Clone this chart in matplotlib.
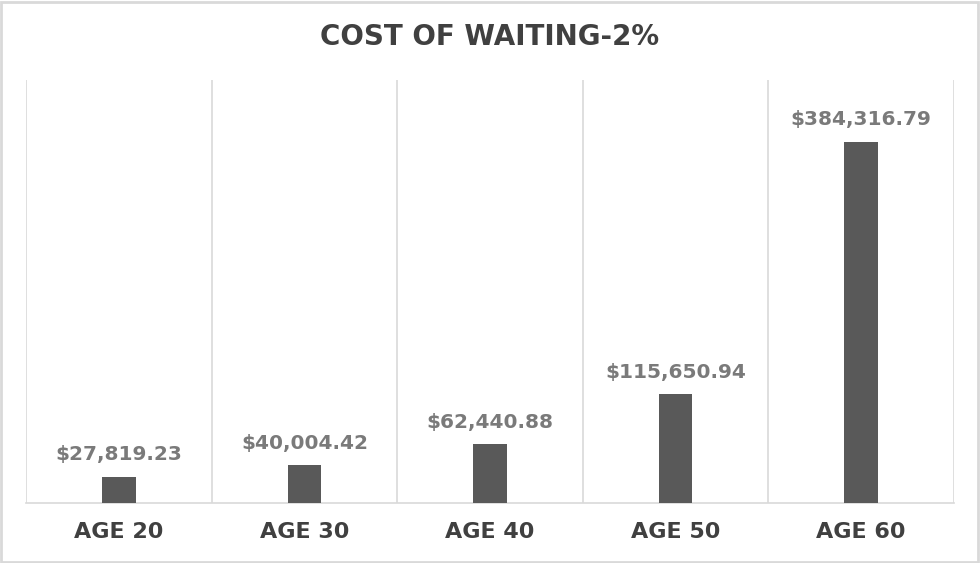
import matplotlib
matplotlib.use("Agg")
import matplotlib.pyplot as plt
from matplotlib.patches import Rectangle

categories = ["AGE 20", "AGE 30", "AGE 40", "AGE 50", "AGE 60"]
values = [27819.23, 40004.42, 62440.88, 115650.94, 384316.79]
labels = ["$27,819.23", "$40,004.42", "$62,440.88", "$115,650.94", "$384,316.79"]
title = "COST OF WAITING-2%"

W, H = 980, 563
fig = plt.figure(figsize=(W / 100, H / 100), dpi=100)
fig.patch.set_facecolor("white")
fig.patches.append(Rectangle((0.001, 0.002), 0.997, 0.995, transform=fig.transFigure,
                             fill=False, edgecolor="#d9d9d9", linewidth=2))

ax = fig.add_axes([26 / W, (H - 503) / H, (954 - 26) / W, (503 - 80) / H])
x = list(range(len(categories)))
ax.bar(x, values, width=0.18, color="#595959", zorder=3)
ax.set_xlim(-0.5, len(categories) - 0.5)
ax.set_ylim(0, 450000)

for i in range(len(categories) + 1):
    ax.axvline(i - 0.5, color="#d9d9d9", linewidth=1.2, zorder=1)
for s in ["top", "left", "right"]:
    ax.spines[s].set_visible(False)
ax.spines["bottom"].set_color("#d9d9d9")
ax.spines["bottom"].set_linewidth(1.2)

ax.set_yticks([])
ax.set_xticks(x)
ax.set_xticklabels(categories, fontsize=16, fontweight="bold", color="#404040")
ax.tick_params(axis="x", length=0, pad=14)

for xi, v, lab in zip(x, values, labels):
    ax.annotate(lab, (xi, v), xytext=(0, 9), textcoords="offset points",
                ha="center", va="bottom", fontsize=14.5, fontweight="bold", color="#7a7a7a")

fig.text(0.5, (H - 37) / H, title, ha="center", va="center", fontsize=20,
         fontweight="bold", color="#404040")

fig.savefig("out.png", dpi=100)
